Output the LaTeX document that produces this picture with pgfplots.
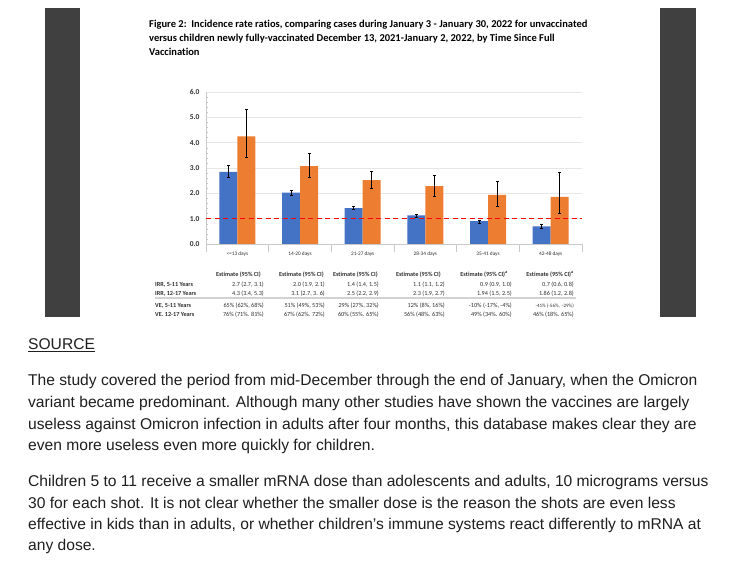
\documentclass[border=0pt]{standalone}
\usepackage{pgfplots}
\pgfplotsset{compat=1.18}
\usepackage{fontspec}
\setmainfont[Ligatures={NoCommon}]{Carlito}
\newfontfamily\bodyfont{Liberation Sans}
\definecolor{xblue}{HTML}{4472C4}
\definecolor{xorange}{HTML}{ED7D31}
\definecolor{darkbar}{HTML}{404040}
\definecolor{gridc}{HTML}{E6E6E6}
\definecolor{axc}{HTML}{C8C8C8}
\definecolor{txt}{HTML}{1F1F1F}
\definecolor{tbl}{HTML}{303030}
\begin{document}
\begin{tikzpicture}[x=1bp,y=1bp]
\path[use as bounding box, fill=white] (0,0) rectangle (745,571);
\fill[darkbar] (45,254) rectangle (80,563);
\fill[darkbar] (660,254) rectangle (696,563);
% title
\begin{scope}[every node/.style={anchor=mid west, inner sep=0pt, font=\fontsize{10.5bp}{12bp}\selectfont\bfseries, text=black}]
\node at (149,546) {Figure 2:\ \ Incidence rate ratios, comparing cases during January 3 - January 30, 2022 for unvaccinated};
\node at (149,532) {versus children newly fully-vaccinated December 13, 2021-January 2, 2022, by Time Since Full};
\node at (149,518) {Vaccination};
\end{scope}
\begin{axis}[
  at={(206bp,327bp)}, anchor=south west,
  scale only axis, width=376bp, height=152bp,
  xmin=-0.5, xmax=5.5, ymin=0, ymax=6,
  ybar=0pt, bar width=18bp,
  axis lines*=left,
  axis line style={draw=axc, line width=0.6bp},
  /pgf/number format/assume math mode=true,
  xtick={0,...,5},
  xticklabels={{<=13 days},{14-20 days},{21-27 days},{28-34 days},{35-41 days},{42-48 days}},
  xticklabel style={font=\fontsize{5.3bp}{6bp}\selectfont, text=tbl},
  major x tick style={draw=none},
  ytick={0,...,6},
  yticklabel={\pgfmathprintnumber[fixed,fixed zerofill,precision=1]{\tick}},
  yticklabel style={font=\fontsize{7.5bp}{8bp}\selectfont\bfseries, text=tbl, xshift=-3bp},
  ymajorgrids, grid style={gridc, line width=0.6bp},
  minor y tick num=4, minor y tick style={draw=axc}, minor tick length=2bp,
  major y tick style={draw=none},
  extra x ticks={-0.5,0.5,...,5.5}, extra x tick labels={},
  extra x tick style={major tick length=8bp, tick align=outside, grid=none, major x tick style={draw=axc, line width=0.6bp}},
  clip=false,
]
\addplot[fill=xblue, draw=none,
  error bars/.cd, y dir=both, y explicit,
  error bar style={black, line width=0.7bp},
  error mark options={rotate=90, mark size=1.5bp, line width=0.7bp, black}]
coordinates {
 (0,2.85) += (0,0.24) -= (0,0.21)
 (1,2.03) += (0,0.09) -= (0,0.10)
 (2,1.42) += (0,0.05) -= (0,0.06)
 (3,1.13) += (0,0.05) -= (0,0.06)
 (4,0.90) += (0,0.05) -= (0,0.07)
 (5,0.70) += (0,0.06) -= (0,0.07)
};
\addplot[fill=xorange, draw=none,
  error bars/.cd, y dir=both, y explicit,
  error bar style={black, line width=0.7bp},
  error mark options={rotate=90, mark size=1.5bp, line width=0.7bp, black}]
coordinates {
 (0,4.25) += (0,1.05) -= (0,0.83)
 (1,3.07) += (0,0.50) -= (0,0.43)
 (2,2.52) += (0,0.35) -= (0,0.32)
 (3,2.28) += (0,0.43) -= (0,0.39)
 (4,1.94) += (0,0.55) -= (0,0.45)
 (5,1.86) += (0,0.98) -= (0,0.66)
};
\addplot[sharp plot, forget plot, draw=red, line width=1.3bp, dash pattern=on 5bp off 3.5bp] coordinates {(-0.5,1) (5.5,1)};
\end{axis}
% table
\begin{scope}[every node/.style={inner sep=0pt, font=\fontsize{6.2bp}{7bp}\selectfont, text=tbl}]
\foreach \x/\s in {261/{},324/{},378/{},441/{},508/{\textsuperscript{a}},574/{\textsuperscript{a}}}
  \node[anchor=mid east, font=\fontsize{6.2bp}{7bp}\selectfont\bfseries] at (\x,297) {Estimate (95\% CI)\s};
\node[anchor=mid west, font=\fontsize{6.2bp}{7bp}\selectfont\bfseries] at (155,287) {IRR, 5-11 Years};
\node[anchor=mid west, font=\fontsize{6.2bp}{7bp}\selectfont\bfseries] at (155,278) {IRR, 12-17 Years};
\node[anchor=mid west, font=\fontsize{6.2bp}{7bp}\selectfont\bfseries] at (155,266) {VE, 5-11 Years};
\node[anchor=mid west, font=\fontsize{6.2bp}{7bp}\selectfont\bfseries] at (155,257) {VE. 12-17 Years};
\draw[gray!35, line width=1.5bp] (155,273) -- (576,273);
% IRR 5-11
\node[anchor=mid east] at (264,287) {2.7 (2.7, 3.1)};
\node[anchor=mid east] at (325,287) {2.0 (1.9, 2.1)};
\node[anchor=mid east] at (379,287) {1.4 (1.4, 1.5)};
\node[anchor=mid east] at (445,287) {1.1 (1.1, 1.2)};
\node[anchor=mid east] at (512,287) {0.9 (0.9, 1.0)};
\node[anchor=mid east] at (574,287) {0.7 (0.6, 0.8)};
% IRR 12-17
\node[anchor=mid east] at (264,278) {4.3 (3.4, 5.3)};
\node[anchor=mid east] at (325,278) {3.1 (2.7, 3. 6)};
\node[anchor=mid east] at (379,278) {2.5 (2.2, 2.9)};
\node[anchor=mid east] at (445,278) {2.3 (1.9, 2.7)};
\node[anchor=mid east] at (512,278) {1.94 (1.5, 2.5)};
\node[anchor=mid east] at (574,278) {1.86 (1.2, 2.8)};
% VE 5-11
\node[anchor=mid east] at (264,266) {65\% (62\%, 68\%)};
\node[anchor=mid east] at (325,266) {51\% (49\%, 53\%)};
\node[anchor=mid east] at (379,266) {29\% (27\%, 32\%)};
\node[anchor=mid east] at (445,266) {12\% (8\%, 16\%)};
\node[anchor=mid east] at (512,266) {-10\% (-17\%, -4\%)};
\node[anchor=mid east, font=\fontsize{5bp}{6bp}\selectfont] at (574,266) {-41\% (-56\%, \ -29\%)};
% VE 12-17
\node[anchor=mid east] at (264,257) {76\% (71\%. 81\%)};
\node[anchor=mid east] at (325,257) {67\% (62\%. 72\%)};
\node[anchor=mid east] at (379,257) {60\% (55\%. 65\%)};
\node[anchor=mid east] at (445,257) {56\% (48\%. 63\%)};
\node[anchor=mid east] at (512,257) {49\% (34\%. 60\%)};
\node[anchor=mid east] at (574,257) {46\% (18\%. 65\%)};
\end{scope}
% body text
\begin{scope}[every node/.style={anchor=mid west, inner sep=0pt, font=\bodyfont\fontsize{15.6bp}{18bp}\selectfont, text=txt}]
\node at (28,223.5) {\underline{SOURCE}};
\node at (28,187.7) {The study covered the period from mid-December through the end of January, when the Omicron};
\node at (28,166) {variant became predominant. Although many other studies have shown the vaccines are largely};
\node at (28,144.3) {useless against Omicron infection in adults after four months, this database makes clear they are};
\node at (28,122.7) {even more useless even more quickly for children.};
\node at (28,87) {Children 5 to 11 receive a smaller mRNA dose than adolescents and adults, 10 micrograms versus};
\node at (28,65.3) {30 for each shot. It is not clear whether the smaller dose is the reason the shots are even less};
\node at (28,43.7) {effective in kids than in adults, or whether children’s immune systems react differently to mRNA at};
\node at (28,22.7) {any dose.};
\end{scope}
\end{tikzpicture}
\end{document}
